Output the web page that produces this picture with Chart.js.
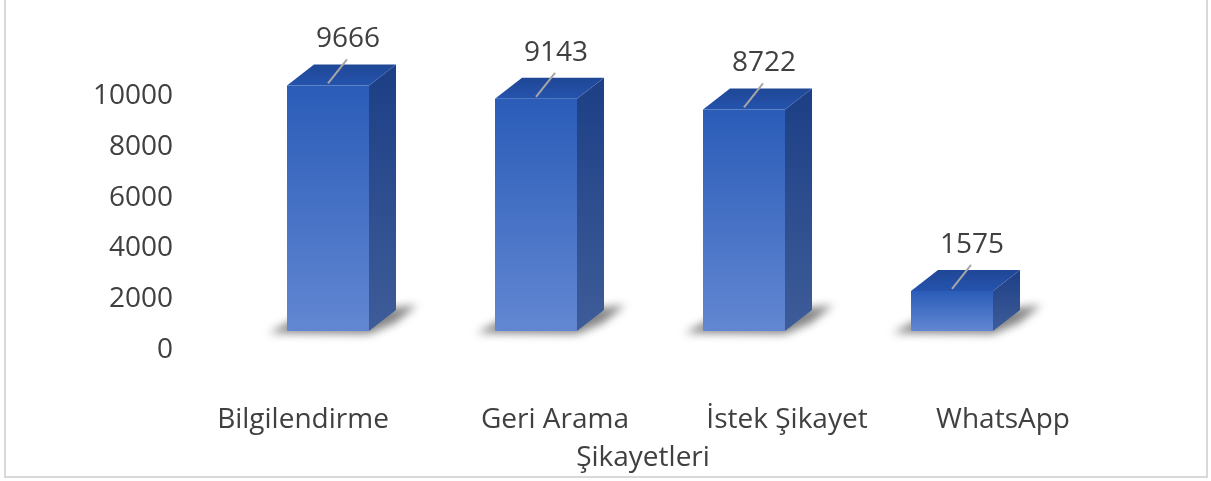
<!DOCTYPE html>
<html>
<head>
<meta charset="utf-8">
<style>
  html, body { margin: 0; padding: 0; background: #fff; }
  canvas { display: block; }
</style>
<script src="https://cdn.jsdelivr.net/npm/chart.js@4"></script>
</head>
<body>
<canvas id="chart" width="1211" height="481"></canvas>
<script>
const categories = ['Bilgilendirme', 'Geri Arama', 'İstek Şikayet', 'WhatsApp'];
const values = [9666, 9143, 8722, 1575];
const yTicks = [0, 2000, 4000, 6000, 8000, 10000];
const axisTitle = 'Şikayetleri';

const textColor = '#404040';
const fontFamily = '"Open Sans", sans-serif';
const fontSize = 28;

// how far the bars sit above the tick scale, and the depth of the 3d box
const liftY = 19;
const depthX = 27;
const depthY = 21;

// the category labels are not centered under their bars in the original
const labelShift = [-25, 19, 43, 51];
const labelY = 420;
const titleShift = 3;
const titleY = 458;

function polygon(ctx, points, fill) {
  ctx.beginPath();
  ctx.moveTo(points[0][0], points[0][1]);
  for (let i = 1; i < points.length; i++) {
    ctx.lineTo(points[i][0], points[i][1]);
  }
  ctx.closePath();
  ctx.fillStyle = fill;
  ctx.fill();
}

function gradient(ctx, x0, y0, x1, y1, from, to) {
  const g = ctx.createLinearGradient(x0, y0, x1, y1);
  g.addColorStop(0, from);
  g.addColorStop(1, to);
  return g;
}

const box3d = {
  id: 'box3d',
  beforeDraw(chart) {
    const ctx = chart.ctx;
    ctx.save();
    ctx.strokeStyle = '#d9d9d9';
    ctx.lineWidth = 2;
    ctx.strokeRect(5, -2, 1202, 479);
    ctx.restore();
  },
  beforeDatasetsDraw(chart) {
    const ctx = chart.ctx;
    ctx.save();
    ctx.translate(0, -liftY);
    chart.getDatasetMeta(0).data.forEach((bar) => {
      const left = bar.x - bar.width / 2;
      const right = bar.x + bar.width / 2;
      const top = bar.y;
      const base = bar.base;

      // shadow on the floor
      ctx.save();
      ctx.filter = 'blur(4px)';
      polygon(ctx, [
        [left - 18, base + 2],
        [left + 8, base - 12],
        [right + 48, base - 26],
        [right + 26, base - 8],
        [right, base + 3]
      ], 'rgba(60,60,60,0.62)');
      ctx.restore();

      // side
      polygon(ctx, [
        [right, top],
        [right + depthX, top - depthY],
        [right + depthX, base - depthY],
        [right, base]
      ], gradient(ctx, 0, top - depthY, 0, base, '#1c3f85', '#3e5c98'));

      // top
      polygon(ctx, [
        [left, top],
        [left + depthX, top - depthY],
        [right + depthX, top - depthY],
        [right, top]
      ], gradient(ctx, 0, top - depthY, 0, top, '#1f4796', '#2553ad'));
    });
  },
  afterDatasetsDraw(chart) {
    const ctx = chart.ctx;
    ctx.restore();

    ctx.save();
    ctx.font = fontSize + 'px ' + fontFamily;
    ctx.fillStyle = textColor;
    ctx.textAlign = 'center';
    ctx.textBaseline = 'middle';

    chart.getDatasetMeta(0).data.forEach((bar, i) => {
      const top = bar.y - liftY;

      // leader line and value
      ctx.strokeStyle = '#a6a6a6';
      ctx.lineWidth = 2;
      ctx.beginPath();
      ctx.moveTo(bar.x, top - 2);
      ctx.lineTo(bar.x + 19, top - 26);
      ctx.stroke();
      ctx.fillText(values[i], bar.x + 20, top - 46);

      ctx.fillText(categories[i], bar.x + labelShift[i], labelY);
    });

    const x = chart.scales.x;
    ctx.fillText(axisTitle, (x.left + x.right) / 2 + titleShift, titleY);
    ctx.restore();
  }
};

new Chart(document.getElementById('chart').getContext('2d'), {
  type: 'bar',
  data: {
    labels: categories,
    datasets: [{
      data: values,
      clip: false,
      barPercentage: 82 / 208,
      categoryPercentage: 1,
      borderWidth: 0,
      backgroundColor(context) {
        const chart = context.chart;
        if (!chart.chartArea || context.parsed === undefined) {
          return '#3f6cc4';
        }
        const y = chart.scales.y;
        return gradient(chart.ctx, 0, y.getPixelForValue(context.parsed.y), 0, y.getPixelForValue(0), '#2a5cb8', '#6287d2');
      }
    }]
  },
  plugins: [box3d],
  options: {
    responsive: false,
    animation: false,
    layout: { padding: { top: 96, right: 155, left: 0, bottom: 0 } },
    plugins: {
      legend: { display: false },
      tooltip: { enabled: false }
    },
    scales: {
      x: {
        grid: { display: false },
        border: { display: false },
        ticks: { display: false },
        afterFit(scale) { scale.height = 131; }
      },
      y: {
        min: yTicks[0],
        max: yTicks[yTicks.length - 1],
        grid: { display: false, drawTicks: false },
        border: { display: false },
        afterBuildTicks(scale) { scale.ticks = yTicks.map((v) => ({ value: v })); },
        afterFit(scale) { scale.width = 224; },
        ticks: {
          color: textColor,
          padding: 51,
          font: { family: fontFamily, size: fontSize },
          callback(value) { return String(value); }
        }
      }
    }
  }
});
</script>
</body>
</html>
